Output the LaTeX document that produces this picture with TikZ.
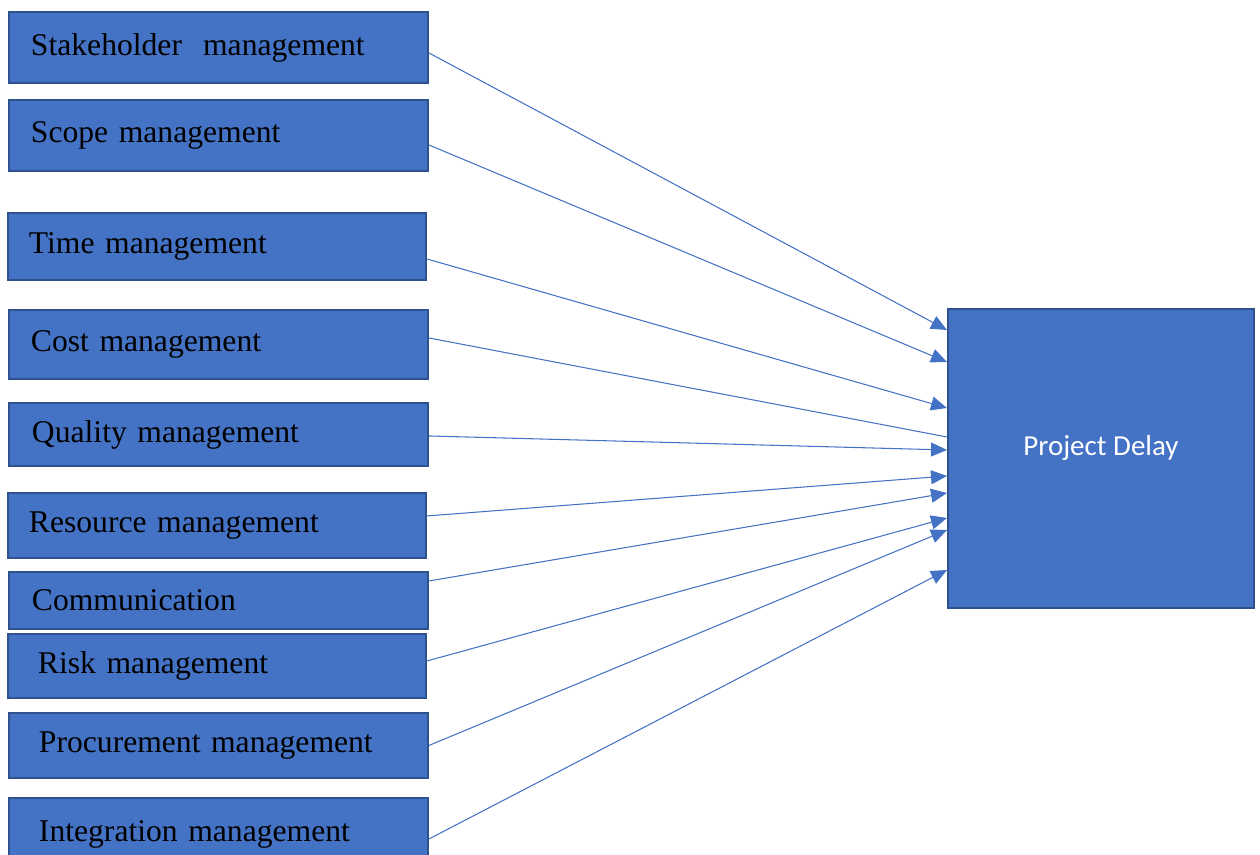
\documentclass[tikz,border=0pt]{standalone}
\usepackage{fontspec}
\setmainfont{Liberation Serif}
\newfontfamily\delayfont{Carlito}
\usepackage{xcolor}
\usetikzlibrary{
    arrows.meta,
    positioning
}
\definecolor{boxblue}{HTML}{4472C4}
\definecolor{boxedge}{HTML}{2F528F}
\tikzset{
    factor/.style={draw=boxedge, fill=boxblue, line width=1.1pt, anchor=north west,
        align=left, inner ysep=0pt, font=\fontsize{18}{21}\selectfont},
    outcome/.style={draw=boxedge, fill=boxblue, line width=1.1pt, anchor=north west,
        text=white, minimum width=6.12cm, minimum height=5.98cm, text depth=0.52cm,
        font=\delayfont\fontsize{16.5}{20}\selectfont},
    link/.style={draw=boxblue, line width=0.6pt},
    arr/.style={link, -{Triangle[length=0.32cm, width=0.28cm]}}
}

\begin{document}
\begin{tikzpicture}
    \path[use as bounding box, clip] (0, 0) rectangle (25.2, -17.1);

    % factor boxes down the left side
    \node[factor, inner xsep=0.44cm, text width=7.5cm, minimum height=1.42cm] (stake) at (0.16, -0.22) {Stakeholder~~management};
    \node[factor, inner xsep=0.44cm, text width=7.5cm, minimum height=1.42cm] (scope) at (0.16, -1.98) {Scope management};
    \node[factor, inner xsep=0.42cm, text width=7.52cm, minimum height=1.34cm] (time) at (0.14, -4.24) {Time management};
    \node[factor, inner xsep=0.44cm, text width=7.5cm, minimum height=1.38cm] (cost) at (0.16, -6.18) {Cost management};
    \node[factor, inner xsep=0.46cm, text width=7.46cm, minimum height=1.26cm] (quality) at (0.16, -8.04) {Quality management};
    \node[factor, inner xsep=0.42cm, text width=7.52cm, minimum height=1.30cm] (resource) at (0.14, -9.84) {Resource management};
    \node[factor, inner xsep=0.46cm, text width=7.46cm, minimum height=1.14cm] (comm) at (0.16, -11.42) {Communication};
    \node[factor, inner xsep=0.60cm, text width=7.16cm, minimum height=1.28cm] (risk) at (0.14, -12.66) {Risk management};
    \node[factor, inner xsep=0.60cm, text width=7.18cm, minimum height=1.30cm] (procure) at (0.16, -14.24) {Procurement management};
    \node[factor, inner xsep=0.60cm, text width=7.18cm, minimum height=1.46cm] (integ) at (0.16, -15.94) {Integration management};

    % outcome box
    \node[outcome] (delay) at (18.94, -6.16) {Project Delay};

    % connectors into the outcome
    \draw
    ([yshift=-0.11cm]stake.east) edge[arr] ([yshift=-0.44cm]delay.north west)
    ([yshift=-0.19cm]scope.east) edge[arr] ([yshift=-1.08cm]delay.north west)
    ([yshift=-0.25cm]time.east) edge[arr] ([yshift=-2.00cm]delay.north west)
    ([yshift=0.13cm]cost.east) edge[link] ([yshift=-2.58cm]delay.north west)
    ([yshift=-0.03cm]quality.east) edge[arr] ([yshift=-2.84cm]delay.north west)
    ([yshift=0.19cm]resource.east) edge[arr] ([yshift=-3.36cm]delay.north west)
    ([yshift=0.39cm]comm.east) edge[arr] ([yshift=-3.70cm]delay.north west)
    ([yshift=0.10cm]risk.east) edge[arr] ([yshift=-4.20cm]delay.north west)
    (procure.east) edge[arr] ([yshift=-4.44cm]delay.north west)
    ([yshift=-0.09cm]integ.east) edge[arr] ([yshift=-5.24cm]delay.north west);
\end{tikzpicture}
\end{document}
